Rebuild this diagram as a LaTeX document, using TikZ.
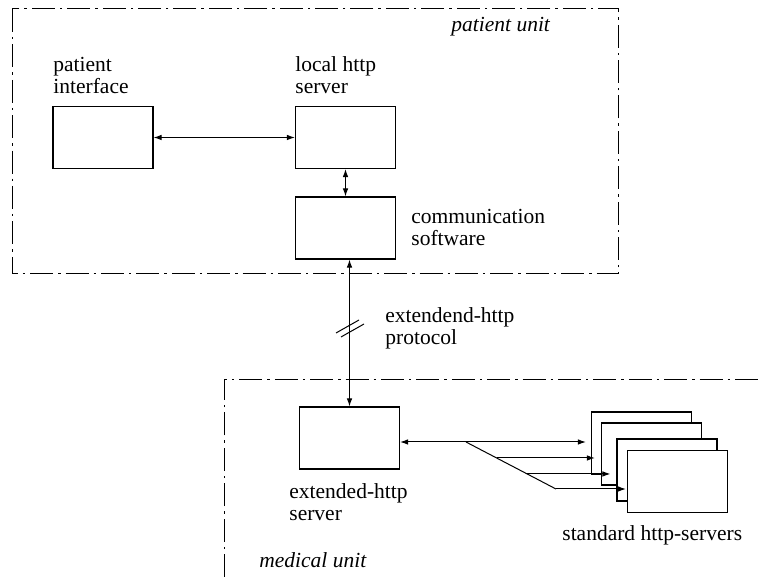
\documentclass[tikz,border=0pt]{standalone}
\usepackage{fontspec}
\setmainfont{Liberation Serif}
\usetikzlibrary{arrows.meta,calc}
\begin{document}
\begin{tikzpicture}[x=0.5pt,y=-0.5pt,
  font=\fontsize{10.75}{11}\selectfont,
  box/.style={draw,line width=0.6pt,minimum width=50pt,minimum height=31pt,inner sep=0pt,fill=white},
  lbl/.style={anchor=west,align=left,inner sep=0pt},
  unit/.style={line width=0.5pt,dash pattern=on 11.5pt off 2.5pt on 1.2pt off 2.5pt},
  con/.style={line width=0.5pt},
  arr/.style={con,-{Latex[length=4pt,width=2.8pt]}},
  barr/.style={con,{Latex[length=4pt,width=2.8pt]}-{Latex[length=4pt,width=2.8pt]}}]
\useasboundingbox (0,0) rectangle (762,577);
% units
\draw[unit] (12,9) rectangle (618,274);
\draw[unit] (224,577) -- (224,380) -- (762,380);
% boxes
\node[box] (pi) at (103,137.5) {};
\node[box] (lh) at (345.5,137.5) {};
\node[box] (cs) at (345.5,228) {};
\node[box] (eh) at (349.5,438) {};
\node[box] (s1) at (641.5,443) {};
\node[box] (s2) at (651.5,454) {};
\node[box] (s3) at (667,470) {};
\node[box] (s4) at (677.5,481.5) {};
% labels
\node[lbl] (tpu) at (451,27) {\itshape patient unit};
\node[lbl] (tpi) at (53,75) {patient\\interface};
\node[lbl] (tlh) at (295,75) {local http\\server};
\node[lbl] (tcs) at (411,227) {communication\\software};
\node[lbl] (tpr) at (385,328) {extendend-http\\protocol};
\node[lbl] (teh) at (289,502.5) {extended-http\\server};
\node[lbl] (tss) at (562,535) {standard http-servers};
\node[lbl] (tmu) at (259,560) {\itshape medical unit};
% connectors
\draw[barr] (pi) -- (lh);
\draw[barr] (lh) -- (cs);
\draw[barr] (eh.north) -- (eh.north |- cs.south);
\coordinate (h) at (349.5,328);
\draw[con] ($(h)+(-13.5,5)$) -- ($(h)+(9.5,-8)$);
\draw[con] ($(h)+(-8.5,9)$) -- ($(h)+(14.5,-4)$);
\coordinate (d1) at (466,442);
\coordinate (d4) at (556,489);
\coordinate (d2) at ($(d1)!0.34!(d4)$);
\coordinate (d3) at ($(d1)!0.68!(d4)$);
\draw[barr,shorten >=2.5pt] (eh.east |- d1) -- (d1 -| s1.west);
\draw[con] (d1) -- (d4);
\draw[arr,shorten >=3pt] (d2) -- (d2 -| s2.west);
\draw[arr,shorten >=3pt] (d3) -- (d3 -| s3.west);
\draw[arr,shorten >=0.5pt] (d4) -- (d4 -| s4.west);
\end{tikzpicture}
\end{document}
